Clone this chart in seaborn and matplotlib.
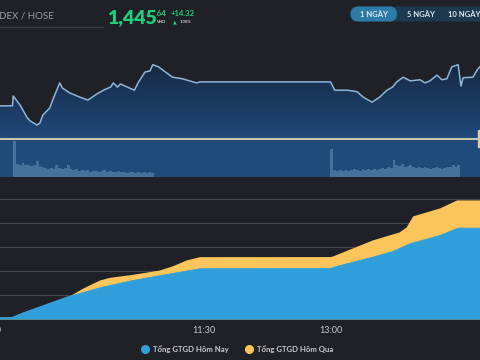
import numpy as np
import pandas as pd
import seaborn as sns
import matplotlib.pyplot as plt
from matplotlib.patches import FancyBboxPatch, PathPatch, Rectangle
from matplotlib.lines import Line2D
from matplotlib.colors import LinearSegmentedColormap

# time axis: minutes after 9:00
price_time = [0, 14.5, 15, 20, 25, 27, 32, 34, 36, 41, 43, 48, 50, 55, 62, 68, 74.5, 79,
              84, 86, 89, 91, 96, 101, 103.5, 108.5, 112, 114, 118, 123, 128, 135, 140,
              145, 147.5, 240, 243, 252, 259, 263, 269.5, 275, 280, 284, 287, 291.5,
              296.5, 303.5, 307, 310.5, 315.5, 319, 322.5, 326, 330.5, 332.5, 334, 341,
              344, 346.5]
price_value = [1437.8, 1437.8, 1439.7, 1437.9, 1435.5, 1434.9, 1434.1, 1434.5, 1436.0,
               1437.4, 1438.9, 1442.2, 1441.2, 1440.3, 1439.5, 1438.9, 1440.1, 1440.8,
               1441.4, 1442.2, 1441.4, 1442.0, 1441.4, 1440.8, 1442.2, 1444.3, 1444.5,
               1445.7, 1445.3, 1444.3, 1443.3, 1443.0, 1442.6, 1442.2, 1442.4, 1442.4,
               1440.8, 1440.8, 1440.5, 1439.5, 1438.5, 1439.5, 1440.8, 1441.4, 1442.4,
               1443.3, 1442.6, 1442.8, 1442.2, 1442.6, 1443.7, 1442.8, 1443.0, 1445.3,
               1445.7, 1441.6, 1443.2, 1443.3, 1444.7, 1445.5]
ref_price = 1431.32

vol_am_start, vol_pm_start = 15, 240
vol_am = [36, 13, 12, 14, 12, 12, 11, 12, 16, 11, 10, 9, 8, 9, 8, 12, 9, 8, 9, 12,
          8, 7, 8, 6, 7, 6, 7, 5, 6, 6, 5, 6, 7, 5, 6, 5, 5, 6, 5, 5,
          4, 5, 5, 4, 5, 4, 5, 4, 5, 4]
vol_pm = [28, 7, 6, 7, 6, 7, 6, 7, 8, 7, 6, 8, 7, 8, 7, 8, 7, 8, 9, 8,
          10, 9, 17, 12, 11, 13, 10, 11, 12, 10, 9, 10, 9, 10, 9, 8, 9, 10, 9, 8,
          9, 10, 10, 12, 10, 12]

today_time = [0, 14, 23.4, 53, 76.6, 100, 124, 147.5, 240, 241.8, 270, 284.4, 296.5,
              317.7, 330.5, 346.5]
today_value = [350, 400, 1520, 4650, 6600, 8125, 9375, 10560, 10600, 10830, 12980,
               14170, 15770, 17500, 19020, 19020]
yday_time = [0, 14, 23.4, 55, 64.5, 76.6, 83.7, 100, 119, 128, 138, 147.5, 240, 241.8,
             270, 289, 294, 298.6, 317.7, 329.8, 346.5]
yday_value = [350, 400, 1520, 4790, 6400, 8125, 8680, 9300, 10200, 11040, 12290, 12980,
              13000, 13120, 16460, 18125, 19170, 21460, 23125, 24790, 24790]

tick_minutes = [0, 150, 240]
tick_labels = ['9:00', '11:30', '13:00']
legend_labels = ['Tổng GTGD Hôm Nay', 'Tổng GTGD Hôm Qua']

bg = '#1f2127'
blue = '#2f9fdc'
yellow = '#fcc55b'
green = '#21cf7b'

sns.set_theme(style='dark', rc={'figure.facecolor': bg, 'axes.facecolor': bg,
                                'savefig.facecolor': bg})
plt.rcParams['font.family'] = ['Lato', 'DejaVu Sans']

W, H = 480, 360
fig = plt.figure(figsize=(4.8, 3.6), dpi=100)


def box(x0, y0, x1, y1):
    return [x0 / W, 1 - y1 / H, (x1 - x0) / W, (y1 - y0) / H]


# price panel
ax_p = fig.add_axes(box(-8, 30, 480, 139.5))
ax_p.set_xlim(0, 346)
top = ref_price + 109.5 / 5.2
ax_p.set_ylim(ref_price, top)
ax_p.axis('off')
price_df = pd.DataFrame({'t': price_time, 'p': price_value})
poly = ax_p.fill_between(price_df['t'], price_df['p'], ref_price - 1, color='none')
clip = PathPatch(poly.get_paths()[0], transform=ax_p.transData, facecolor='none',
                 edgecolor='none')
ax_p.add_patch(clip)
cmap = LinearSegmentedColormap.from_list('g', ['#1f497a', '#1a3253', '#151b26'])
grad = np.linspace(0, 1, 256).reshape(-1, 1)
im = ax_p.imshow(grad, extent=[0, 346, ref_price, top], origin='lower',
                 aspect='auto', cmap=cmap, zorder=1)
im.set_clip_path(clip)
sns.lineplot(data=price_df, x='t', y='p', ax=ax_p, color='#8db6d9', linewidth=1.1,
             estimator=None, sort=False, zorder=3)
ax_p.set_ylim(ref_price, top)

# volume panel
ax_v = fig.add_axes(box(-8, 139.5, 480, 177))
ax_v.set_facecolor('#1f4b7b')
ax_v.set_xlim(0, 346)
ax_v.set_ylim(0, 37.5)
ax_v.bar(vol_am_start + 2 * np.arange(len(vol_am)), vol_am, width=2, align='edge',
         color='#44729d', linewidth=0)
ax_v.bar(vol_pm_start + 2 * np.arange(len(vol_pm)), vol_pm, width=2, align='edge',
         color='#44729d', linewidth=0)
ax_v.set_xticks([])
ax_v.set_yticks([])
for s in ax_v.spines.values():
    s.set_visible(False)

# reference line
fig.add_artist(Line2D([0, 1], [1 - 139.5 / H] * 2, color='#c8c8a8', linewidth=1.5))
fig.add_artist(Rectangle((477.5 / W, 1 - 147 / H), 3 / W, 17 / H, color='#d8d2a8'))

# cumulative value panel
ax = fig.add_axes(box(-8, 185, 480, 319.5))
ax.set_xlim(0, 346)
ax.set_ylim(0, 28000)
ax.fill_between(yday_time, yday_value, 0, color=yellow, linewidth=0)
ax.fill_between(today_time, today_value, 0, color=blue, linewidth=0)
sns.lineplot(x=today_time, y=today_value, ax=ax, color=blue, linewidth=0.6,
             estimator=None, sort=False)
ax.set_yticks(range(0, 28000, 5000))
ax.set_yticklabels([])
ax.set_xticks(tick_minutes)
ax.set_xticklabels(tick_labels)
ax.tick_params(axis='x', length=0, pad=5, labelsize=6.5, labelcolor='#c9cacd')
ax.tick_params(axis='y', length=0)
ax.grid(axis='y', color='#47494f', linewidth=0.8)
ax.grid(axis='x', visible=False)
ax.set_axisbelow(True)
for s in ax.spines.values():
    s.set_visible(False)
ax.set_xlabel('')
ax.set_ylabel('')

handles = [Line2D([], [], marker='o', linestyle='', markersize=5.5, color=c)
           for c in (blue, yellow)]
fig.legend(handles, legend_labels, loc='center', bbox_to_anchor=(235 / W, 1 - 349 / H),
           ncol=2, frameon=False, prop={'size': 5.6, 'weight': 'bold'},
           labelcolor='#c9cacd', handletextpad=0.0, columnspacing=1.6)

# header overlay
ax_o = fig.add_axes([0, 0, 1, 1])
ax_o.set_xlim(0, W)
ax_o.set_ylim(H, 0)
ax_o.axis('off')
ax_o.plot([0, 103], [27, 27], color='#3b3d43', linewidth=1)
ax_o.text(-1, 16, 'DEX / HOSE', color='#9c9ea3', fontsize=7, va='center')
ax_o.text(107, 18, '1,445', color=green, fontsize=14, fontweight='heavy', va='center')
ax_o.text(156, 14, '.64', color=green, fontsize=5.5, fontweight='bold', va='center')
ax_o.text(156, 22, 'VND', color='#d0d0d0', fontsize=3, fontweight='bold', va='center')
ax_o.text(171, 14, '+14.32', color=green, fontsize=5.5, fontweight='bold', va='center')
ax_o.text(173, 22, '▲', color=green, fontsize=3.5, va='center',
          family=['DejaVu Sans'])
ax_o.text(180, 22, '1.00%', color='#d0d0d0', fontsize=3, fontweight='bold', va='center')

ax_o.add_patch(FancyBboxPatch((357.5, 6.5), 140, 15, boxstyle='round,pad=0,rounding_size=7.5',
                              facecolor='#1c394f', edgecolor='none'))
ax_o.add_patch(FancyBboxPatch((350.5, 6.5), 46.5, 15,
                              boxstyle='round,pad=0,rounding_size=7.5',
                              facecolor='#2b7ca6', edgecolor='none'))
for x, lab in [(374, '1 NGÀY'), (421, '5 NGÀY'), (464, '10 NGÀY')]:
    ax_o.text(x, 14.5, lab, color='#dfe6ec', fontsize=5.5, fontweight='bold',
              ha='center', va='center')

fig.savefig('out.png', dpi=100, facecolor=bg)
